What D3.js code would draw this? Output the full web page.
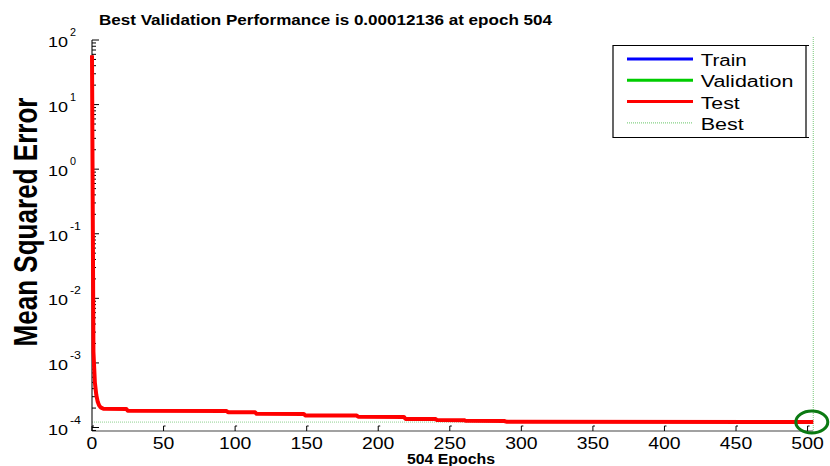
<!DOCTYPE html>
<html>
<head>
<meta charset="utf-8" />
<title>Performance</title>
<script src="https://d3js.org/d3.v7.min.js"></script>
<style>
  body { margin: 0; background: #fff; }
  svg text { font-family: "Liberation Sans", Arial, sans-serif; fill: #000; }
</style>
</head>
<body>
<div id="chart"></div>
<script>
// test performance (train / validation lie under it)
var epochs   = [0, 1, 2, 3, 4, 5, 6, 8, 24, 25, 94, 95, 114, 115, 148, 149, 185, 186, 218, 219, 240, 241, 260, 261, 288, 290, 504];
var testPerf = [58, 1.5e-3, 5.0e-4, 3.2e-4, 2.5e-4, 2.2e-4, 2.05e-4, 1.95e-4, 1.94e-4, 1.81e-4, 1.80e-4, 1.73e-4, 1.72e-4, 1.63e-4, 1.62e-4, 1.54e-4, 1.53e-4, 1.47e-4, 1.46e-4, 1.36e-4, 1.35e-4, 1.31e-4, 1.30e-4, 1.27e-4, 1.26e-4, 1.225e-4, 1.2136e-4];
var bestEpoch = 504;
var bestPerf = 0.00012136;
var xTicks = [0, 50, 100, 150, 200, 250, 300, 350, 400, 450, 500];
var yExps = [2, 1, 0, -1, -2, -3, -4];
var legendNames = ["Train", "Validation", "Test", "Best"];
var legendColors = ["#0000ff", "#00cc00", "#ff0000", "#00a000"];

var width = 830, height = 466;
var svg = d3.select("#chart").append("svg").attr("width", width).attr("height", height);

var x = d3.scaleLinear().domain([0, 504]).range([92, 813.3]);
var y = d3.scaleLog().domain([8.83e-5, 100]).range([431, 40]);

// best markers
svg.append("line")
  .attr("x1", x(0)).attr("x2", x(bestEpoch))
  .attr("y1", y(bestPerf)).attr("y2", y(bestPerf))
  .attr("stroke", "#8fd18f").attr("stroke-width", 1).attr("stroke-dasharray", "1,1");
svg.append("line")
  .attr("x1", x(bestEpoch)).attr("x2", x(bestEpoch))
  .attr("y1", 37).attr("y2", y.range()[0])
  .attr("stroke", "#8fd18f").attr("stroke-width", 1.2).attr("stroke-dasharray", "1,1");

// axes lines
svg.append("line").attr("x1", 92).attr("x2", 92).attr("y1", 40).attr("y2", 431).attr("stroke", "#222").attr("stroke-width", 1.2);
svg.append("line").attr("x1", 92).attr("x2", x(504)).attr("y1", 431).attr("y2", 431).attr("stroke", "#444").attr("stroke-width", 1.2);

// y ticks
var minor = [];
for (var e = -5; e < 2; e++) {
  for (var m = 1; m <= 9; m++) {
    var v = m * Math.pow(10, e);
    if (v >= y.domain()[0] && v <= 100) minor.push({v: v, major: m === 1});
  }
}
minor.push({v: 100, major: true});
svg.selectAll(".ytick").data(minor).enter().append("line")
  .attr("x1", 92).attr("x2", function(d) { return d.major ? 99 : 96; })
  .attr("y1", function(d) { return y(d.v); }).attr("y2", function(d) { return y(d.v); })
  .attr("stroke", "#000").attr("stroke-width", 1);

// y labels 10^k
var yl = svg.selectAll(".ylab").data(yExps).enter().append("g");
yl.append("text")
  .attr("x", 48).attr("y", function(d) { return y(Math.pow(10, d)) + 7; })
  .attr("font-size", 15).attr("textLength", 20).attr("lengthAdjust", "spacingAndGlyphs")
  .text("10");
yl.append("text")
  .attr("x", 70).attr("y", function(d) { return y(Math.pow(10, d)) - 4; })
  .attr("font-size", 10)
  .attr("textLength", function(d) { return d < 0 ? 11 : 6; }).attr("lengthAdjust", "spacingAndGlyphs")
  .text(function(d) { return d; });

// x ticks
svg.selectAll(".xtick").data(xTicks).enter().append("path")
  .attr("d", function(d) { var px = x(d); return "M" + px + ",431V426H" + (px + 2); })
  .attr("fill", "none").attr("stroke", "#000").attr("stroke-width", 1);
svg.selectAll(".xlab").data(xTicks).enter().append("text")
  .attr("x", function(d) { return x(d); }).attr("y", 449)
  .attr("text-anchor", "middle").attr("font-size", 16.5)
  .attr("textLength", function(d) { return String(d).length * 10.8; }).attr("lengthAdjust", "spacingAndGlyphs")
  .text(function(d) { return d; });

// test curve
var line = d3.line().x(function(d, i) { return x(epochs[i]); }).y(function(d) { return y(d); });
svg.append("path").datum(testPerf)
  .attr("d", line).attr("fill", "none")
  .attr("stroke", "#ff0000").attr("stroke-width", 4).attr("stroke-linejoin", "round");

// best circle
svg.append("ellipse")
  .attr("cx", x(bestEpoch) - 1.5).attr("cy", y(bestPerf))
  .attr("rx", 16).attr("ry", 11)
  .attr("fill", "none").attr("stroke", "#0b7a12").attr("stroke-width", 3);

// titles
svg.append("text").attr("x", 99).attr("y", 25)
  .attr("font-size", 15).attr("font-weight", "bold")
  .attr("textLength", 453).attr("lengthAdjust", "spacingAndGlyphs")
  .text("Best Validation Performance is 0.00012136 at epoch " + bestEpoch);
svg.append("text").attr("x", 407).attr("y", 464)
  .attr("font-size", 14).attr("font-weight", "bold")
  .attr("textLength", 88).attr("lengthAdjust", "spacingAndGlyphs")
  .text(bestEpoch + " Epochs");
svg.append("text")
  .attr("transform", "translate(37,222) rotate(-90)")
  .attr("text-anchor", "middle").attr("font-size", 33).attr("font-weight", "bold")
  .attr("textLength", 249).attr("lengthAdjust", "spacingAndGlyphs")
  .text("Mean Squared Error");

// legend
var lx = 613, ly = 45.5, lw = 193, lh = 92;
svg.append("rect").attr("x", lx).attr("y", ly).attr("width", lw).attr("height", lh)
  .attr("fill", "#fff").attr("stroke", "none");
svg.append("path")
  .attr("d", "M" + (lx + lw + 3) + "," + ly + "H" + lx + "V" + (ly + lh) + "H" + (lx + lw + 3) + "M" + (lx + lw) + "," + ly + "V" + (ly + lh))
  .attr("fill", "none").attr("stroke", "#000").attr("stroke-width", 1.2);
var textLens = [46, 92.7, 39, 43];
var lg = svg.selectAll(".leg").data(legendNames).enter().append("g")
  .attr("transform", function(d, i) { return "translate(0," + (59 + i * 21.3) + ")"; });
lg.append("line").attr("x1", 627).attr("x2", 693).attr("y1", 0).attr("y2", 0)
  .attr("stroke", function(d, i) { return legendColors[i]; })
  .attr("stroke-width", function(d, i) { return i === 3 ? 1 : 3; })
  .attr("stroke-dasharray", function(d, i) { return i === 3 ? "1,1" : null; })
  .attr("stroke-opacity", function(d, i) { return i === 3 ? 0.6 : 1; });
lg.append("text").attr("x", 700.7).attr("y", 7)
  .attr("font-size", 16)
  .attr("textLength", function(d, i) { return textLens[i]; }).attr("lengthAdjust", "spacingAndGlyphs")
  .text(function(d) { return d; });
</script>
</body>
</html>
